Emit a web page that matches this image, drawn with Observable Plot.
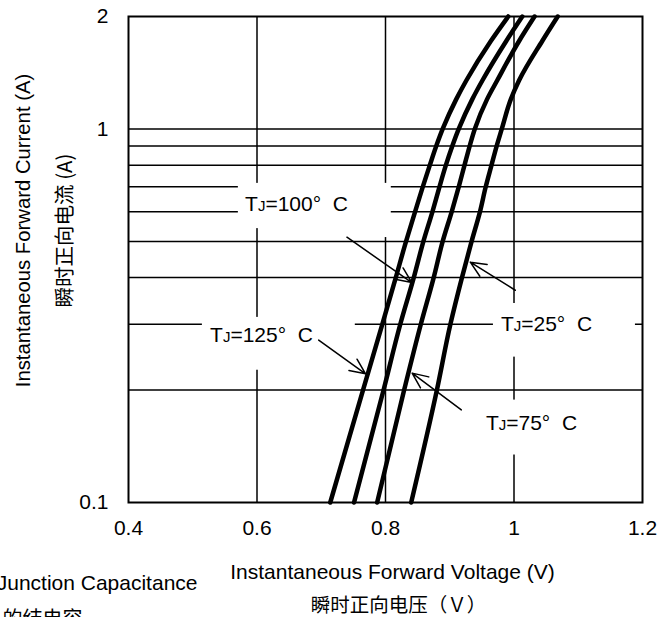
<!DOCTYPE html>
<html><head><meta charset="utf-8">
<script src="https://cdn.jsdelivr.net/npm/d3@7"></script>
<script src="https://cdn.jsdelivr.net/npm/@observablehq/plot@0.6"></script>
<style>
html,body{margin:0;padding:0;background:#fff;}
#chart{width:671px;height:617px;overflow:hidden;}
svg text{text-spacing-trim: space-all; font-feature-settings: "halt" 0, "chws" 0, "palt" 0;}
</style></head><body><div id="chart"></div>
<script>
// Forward current (A) at which each curve was read
const currentA = [0.1, 0.2, 0.3, 0.4, 0.5, 0.6, 0.7, 0.8, 0.9, 1.0, 1.2, 1.35, 1.72, 2.0];
// Forward voltage (V) per junction temperature
const vf125 = [0.714, 0.765, 0.795, 0.816, 0.832, 0.846, 0.858, 0.869, 0.879, 0.889, 0.910, 0.926, 0.964, 0.991];
const vf100 = [0.751, 0.797, 0.823, 0.844, 0.859, 0.873, 0.884, 0.894, 0.904, 0.914, 0.935, 0.951, 0.988, 1.013];
const vf75  = [0.787, 0.829, 0.855, 0.875, 0.889, 0.903, 0.914, 0.923, 0.931, 0.939, 0.958, 0.974, 1.008, 1.032];
const vf25  = [0.840, 0.880, 0.901, 0.919, 0.934, 0.947, 0.956, 0.965, 0.973, 0.981, 0.995, 1.008, 1.044, 1.068];
const temps = ["125", "100", "75", "25"];

const xTicks = [0.4, 0.6, 0.8, 1.0, 1.2];
const yTicks = [0.1, 1, 2];
const gridCurrent = [0.2, 0.3, 0.4, 0.5, 0.6, 0.7, 0.8, 0.9, 1];
const gridVoltage = [0.6, 0.8, 1.0];

// annotation labels (data units)
const labelText = ["TJ=100°\u00a0\u00a0C", "TJ=125°\u00a0\u00a0C", "TJ=25°\u00a0\u00a0C", "TJ=75°\u00a0\u00a0C"];
const labelV = [0.6615, 0.607, 1.0506, 1.0272];
const labelI = [0.628, 0.280, 0.300, 0.163];
// white boxes behind labels
const boxV1 = [0.571, 0.780, 0.515, 0.968, 0.948];
const boxV2 = [0.809, 0.809, 0.753, 1.189, 1.120];
const boxI1 = [0.715, 0.545, 0.313, 0.341, 0.188];
const boxI2 = [0.541, 0.512, 0.226, 0.245, 0.134];
// pointer arrows
const arrowV1 = [0.740, 0.696, 1.002, 0.918];
const arrowI1 = [0.513, 0.272, 0.370, 0.177];
const arrowV2 = [0.841, 0.769, 0.932, 0.8415];
const arrowI2 = [0.388, 0.221, 0.440, 0.222];

const series = [vf125, vf100, vf75, vf25];
const rows = [];
series.forEach((vs, k) => vs.forEach((v, i) => rows.push({T: temps[k], V: v, I: currentA[i]})));
const labels = labelText.map((t, i) => ({t, V: labelV[i], I: labelI[i]}));
const boxes = boxV1.map((v, i) => ({x1: v, x2: boxV2[i], y1: boxI1[i], y2: boxI2[i]}));
const arrows = arrowV1.map((v, i) => ({x1: v, y1: arrowI1[i], x2: arrowV2[i], y2: arrowI2[i]}));

const FONT = "'Liberation Sans', Arial, sans-serif";
const CJK = "'Noto Sans CJK SC', sans-serif";

const svg = Plot.plot({
  width: 671,
  height: 617,
  marginLeft: 128,
  marginRight: 29,
  marginTop: 16,
  marginBottom: 115,
  style: {fontFamily: FONT, fontSize: "21px", color: "black", background: "white", overflow: "visible"},
  x: {domain: [0.4, 1.2]},
  y: {type: "log", domain: [0.1, 2]},
  marks: [
    Plot.ruleY(gridCurrent, {stroke: "black", strokeWidth: 1.5}),
    Plot.ruleX(gridVoltage, {stroke: "black", strokeWidth: 1.5}),
    Plot.rect(boxes, {x1: "x1", x2: "x2", y1: "y1", y2: "y2", fill: "white"}),
    Plot.text(labels, {x: "V", y: "I", text: "t", fontSize: 21, fontFamily: FONT, fill: "black"}),
    Plot.arrow(arrows, {x1: "x1", y1: "y1", x2: "x2", y2: "y2", stroke: "black", strokeWidth: 1.5, headLength: 17, headAngle: 48}),
    Plot.line(rows, {x: "V", y: "I", z: "T", stroke: "black", strokeWidth: 4.5, curve: "monotone-y"}),
    Plot.frame({stroke: "black", strokeWidth: 2}),
    Plot.axisX({ticks: xTicks, tickSize: 0, tickPadding: 18, tickFormat: d => String(+d.toFixed(1)), label: null, fontSize: 21}),
    Plot.axisY({ticks: yTicks, tickSize: 0, tickPadding: 20, tickFormat: d => String(d), label: null, fontSize: 21}),
    Plot.text(["Instantaneous Forward Voltage (V)"], {frameAnchor: "bottom", textAnchor: "middle", lineAnchor: "middle", dx: 7, dy: 70, fontSize: 21, fontFamily: FONT}),
    Plot.text(["瞬时正向电压（Ｖ）"], {frameAnchor: "bottom", textAnchor: "middle", lineAnchor: "middle", dx: 13, dy: 103, fontSize: 19.5, fontFamily: CJK}),
    Plot.text(["Instantaneous Forward Current (A)"], {frameAnchor: "left", textAnchor: "middle", lineAnchor: "middle", rotate: -90, dx: -105, dy: -29, fontSize: 20.3, fontFamily: FONT}),
    Plot.text(["瞬时正向电流 (A)"], {frameAnchor: "left", textAnchor: "middle", lineAnchor: "middle", rotate: -90, dx: -63, dy: -29, fontSize: 20.5, fontFamily: CJK}),
    Plot.text(["Junction Capacitance"], {frameAnchor: "bottom-left", textAnchor: "end", lineAnchor: "middle", dx: 69, dy: 81, fontSize: 21, fontFamily: FONT}),
    Plot.text(["的结电容"], {frameAnchor: "bottom-left", textAnchor: "start", lineAnchor: "middle", dx: -126, dy: 117, fontSize: 20, fontFamily: CJK})
  ]
});

d3.select(svg).selectAll("text").each(function () {
  const t = this.textContent;
  if (/^TJ=/.test(t)) {
    const sel = d3.select(this);
    sel.text(null);
    sel.append("tspan").text("T");
    sel.append("tspan").attr("font-size", "15px").text("J");
    sel.append("tspan").text(t.slice(2));
  }
});

document.getElementById("chart").appendChild(svg);
</script>
</body></html>
